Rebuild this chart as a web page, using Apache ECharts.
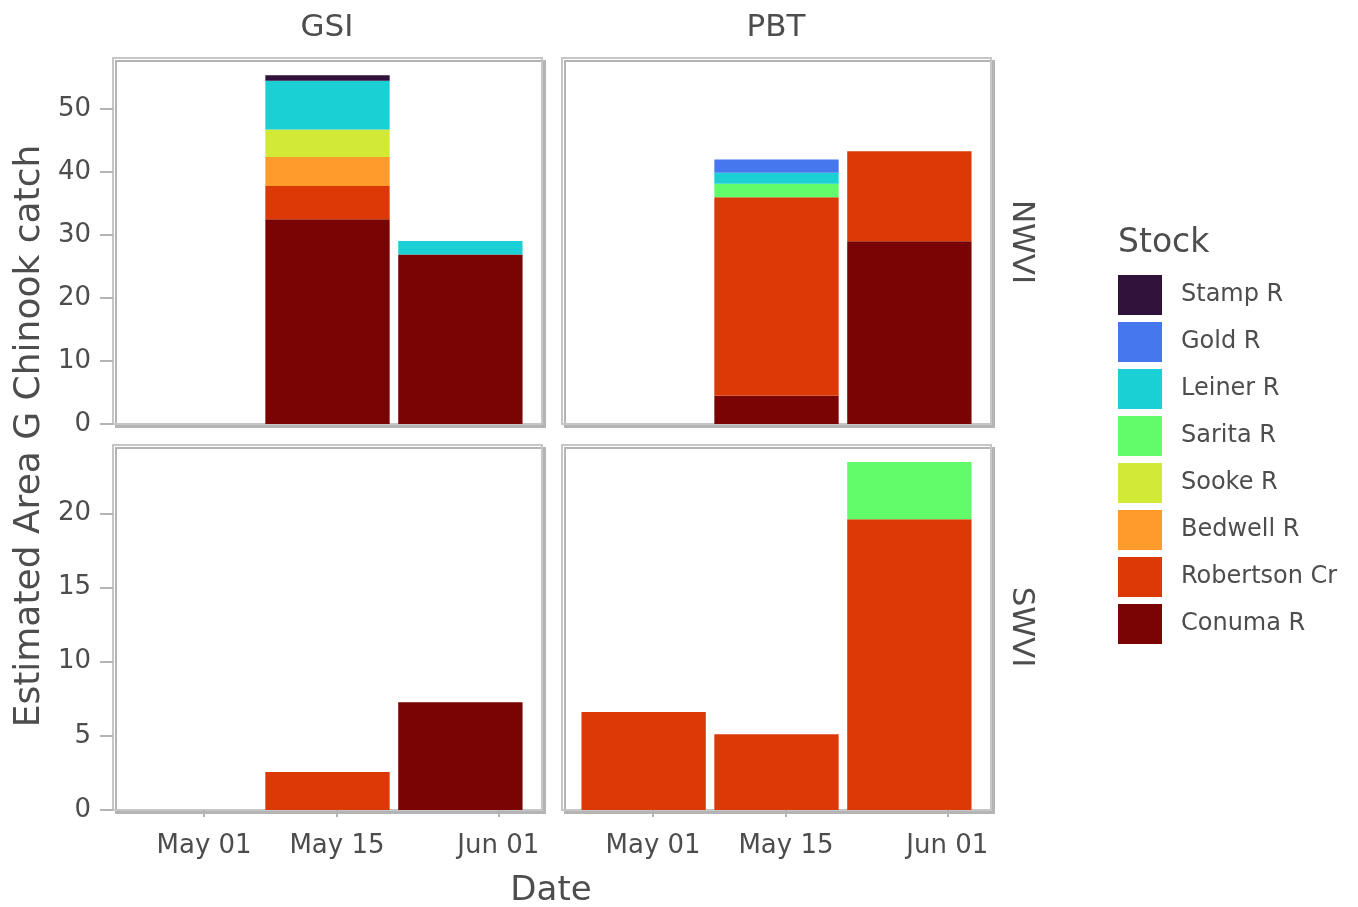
<!DOCTYPE html>
<html>
<head>
<meta charset="utf-8">
<script src="https://cdn.jsdelivr.net/npm/echarts@6/dist/echarts.min.js"></script>
<style>
  html, body { margin: 0; padding: 0; background: #fff; }
  #main { width: 1358px; height: 907px; }
</style>
</head>
<body>
<div id="main"></div>
<script>
// stacking order: first = bottom of the bar
var stocks = ['Conuma R', 'Robertson Cr', 'Bedwell R', 'Sooke R', 'Sarita R', 'Leiner R', 'Gold R', 'Stamp R'];
var stockColors = ['#7a0403', '#db3a07', '#fe9b2d', '#d2e935', '#62fc6b', '#1bd0d5', '#4777ef', '#30123b'];

// bin centres, days from May 01 (Apr 30, May 14, May 28)
var binDays = [-1, 13, 27];
var binWidthDays = 13.1;

// x tick labels
var xTickDays = [0, 14, 31];
var xTickLabels = ['May 01', 'May 15', 'Jun 01'];
var yTicksNWVI = [0, 10, 20, 30, 40, 50];
var yTicksSWVI = [0, 5, 10, 15, 20];

// one row per stock (same order as stocks), one column per bin
var gsiNWVI = [
	[0, 32.5, 26.9],
	[0, 5.3, 0],
	[0, 4.6, 0],
	[0, 4.35, 0],
	[0, 0, 0],
	[0, 7.75, 2.15],
	[0, 0, 0],
	[0, 0.85, 0]
];
var pbtNWVI = [
	[0, 4.5, 29.0],
	[0, 31.5, 14.3],
	[0, 0, 0],
	[0, 0, 0],
	[0, 2.15, 0],
	[0, 1.75, 0],
	[0, 2.1, 0],
	[0, 0, 0]
];
var gsiSWVI = [
	[0, 0, 7.27],
	[0, 2.56, 0],
	[0, 0, 0],
	[0, 0, 0],
	[0, 0, 0],
	[0, 0, 0],
	[0, 0, 0],
	[0, 0, 0]
];
var pbtSWVI = [
	[0, 0, 0],
	[6.6, 5.1, 19.6],
	[0, 0, 0],
	[0, 0, 0],
	[0, 0, 3.85],
	[0, 0, 0],
	[0, 0, 0],
	[0, 0, 0]
];

var myChart = echarts.init(document.getElementById('main'));

var font = 'DejaVu Sans';
var textColor = '#4d4d4d';
var xMin = -9.6, xMax = 35.6;
var colLeft = [113, 562];
var colWidth = 429;
var rowTop = [58, 445];
var rowHeight = [366, 365];
var rowMax = [58.1, 24.6];
var rowTicks = [yTicksNWVI, yTicksSWVI];

var panels = [
	{ row: 0, col: 0, data: gsiNWVI },
	{ row: 0, col: 1, data: pbtNWVI },
	{ row: 1, col: 0, data: gsiSWVI },
	{ row: 1, col: 1, data: pbtSWVI }
];

// stacked rectangle: value(0)=bin centre, value(1)=base, value(2)=top
function renderBar(params, api) {
	var x = api.value(0);
	if (api.value(2) <= api.value(1)) return;
	var p0 = api.coord([x - binWidthDays / 2, api.value(2)]);
	var p1 = api.coord([x + binWidthDays / 2, api.value(1)]);
	return {
		type: 'rect',
		shape: { x: p0[0], y: p0[1], width: p1[0] - p0[0], height: p1[1] - p0[1] },
		style: { fill: api.visual('color') }
	};
}

var grids = [], xAxes = [], yAxes = [], series = [];

panels.forEach(function(p, i) {
	grids.push({
		left: colLeft[p.col], top: rowTop[p.row],
		width: colWidth, height: rowHeight[p.row],
		show: true, backgroundColor: '#fff',
		borderColor: '#c6c6c6', borderWidth: 2,
		shadowColor: '#b4b4b4', shadowOffsetX: 3, shadowOffsetY: 3, shadowBlur: 0
	});
	var bottomRow = p.row === 1;
	xAxes.push({
		type: 'value', gridIndex: i, min: xMin, max: xMax,
		axisLine: { show: false, onZero: false },
		splitLine: { show: false },
		axisTick: {
			show: bottomRow, customValues: xTickDays, length: 7,
			lineStyle: { color: '#b3b3b3', width: 2 }
		},
		axisLabel: {
			show: bottomRow, customValues: xTickDays, margin: 23,
			fontFamily: font, fontSize: 26, color: textColor,
			formatter: function(v) {
				var k = xTickDays.indexOf(v);
				return k >= 0 ? xTickLabels[k] : '';
			}
		}
	});
	var leftCol = p.col === 0;
	yAxes.push({
		type: 'value', gridIndex: i, min: 0, max: rowMax[p.row],
		axisLine: { show: false, onZero: false },
		splitLine: { show: false },
		axisTick: {
			show: leftCol, customValues: rowTicks[p.row], length: 13,
			lineStyle: { color: '#b3b3b3', width: 2 }
		},
		axisLabel: {
			show: leftCol, customValues: rowTicks[p.row], margin: 22,
			fontFamily: font, fontSize: 26, color: textColor
		}
	});
	var base = binDays.map(function() { return 0; });
	stocks.forEach(function(name, s) {
		var rows = binDays.map(function(d, b) {
			var lo = base[b];
			base[b] = lo + p.data[s][b];
			return [d, lo, base[b]];
		});
		series.push({
			name: name,
			type: 'custom',
			xAxisIndex: i, yAxisIndex: i,
			itemStyle: { color: stockColors[s] },
			encode: { x: 0, y: [1, 2] },
			renderItem: renderBar,
			data: rows
		});
	});
});

function label(text, x, y, size, rot) {
	return {
		type: 'text', x: x, y: y, rotation: rot || 0,
		style: {
			text: text, x: 0, y: 0, align: 'center', verticalAlign: 'middle',
			font: size + 'px "' + font + '"', fill: textColor
		}
	};
}

var option = {
	animation: false,
	backgroundColor: '#fff',
	grid: grids,
	xAxis: xAxes,
	yAxis: yAxes,
	legend: {
		data: stocks.slice().reverse(),
		orient: 'vertical',
		left: 1113, top: 270,
		itemWidth: 44, itemHeight: 40, itemGap: 7,
		icon: 'rect',
		selectedMode: false,
		textStyle: { fontFamily: font, fontSize: 24, color: textColor, padding: [6, 0, 0, 14] }
	},
	graphic: [
		label('Estimated Area G Chinook catch', 30, 436, 36, Math.PI / 2),
		label('Date', 551, 891, 34),
		label('GSI', 327, 28, 31),
		label('PBT', 776, 28, 31),
		label('NWVI', 1021, 242, 31, -Math.PI / 2),
		label('SWVI', 1021, 627, 31, -Math.PI / 2),
		{
			type: 'text', x: 1118, y: 243,
			style: { text: 'Stock', x: 0, y: 0, align: 'left', verticalAlign: 'middle',
				font: '33px "' + font + '"', fill: textColor }
		}
	],
	series: series
};
myChart.setOption(option, true);
</script>
</body>
</html>
